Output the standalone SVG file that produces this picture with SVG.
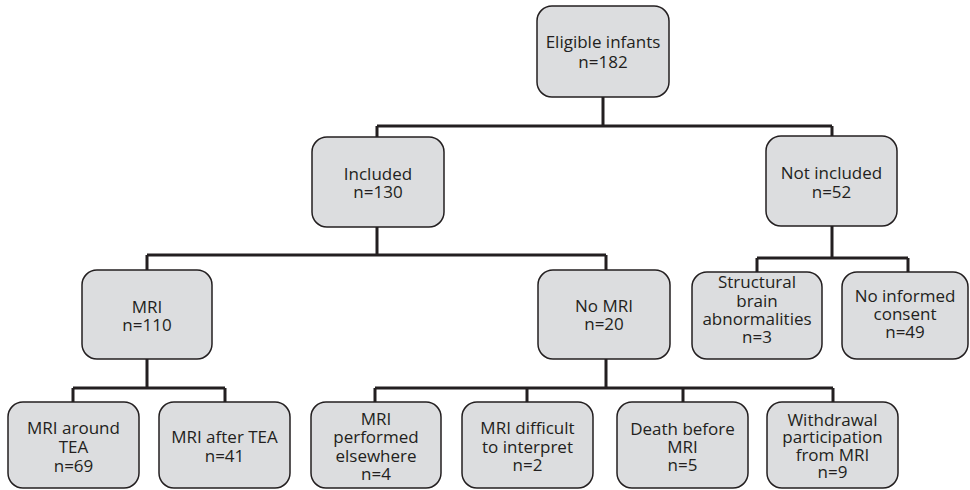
<svg xmlns="http://www.w3.org/2000/svg" width="970" height="490" viewBox="0 0 970 490">
<style>
.b{fill:#dcdddf;stroke:#231f20;stroke-width:1.5}
text{font-family:"Open Sans","Noto Sans",sans-serif;font-size:17px;fill:#231f20;text-anchor:middle}
.c{fill:none;stroke:#231f20;stroke-width:3}
</style>
<rect width="970" height="490" fill="#fff"/>
<g id="connectors">
<path class="c" d="M603,97V126M377,126H832M377,126V137M832,126V136"/>
<path class="c" d="M377,227V255M147,255H606M147,255V270M606,255V270"/>
<path class="c" d="M147,359V388M73,388H225M73,388V402M225,388V402"/>
<path class="c" d="M606,359V388M375,388H833M375,388V402M527,388V402M683,388V402M833,388V402"/>
<path class="c" d="M832,226V258M757,258H908M757,258V272M908,258V272"/>
</g>
<g id="eligible"><rect class="b" x="537" y="6" width="132" height="91" rx="15"/><text x="603" y="48">Eligible infants</text><text x="603" y="68">n=182</text></g>
<g id="included"><rect class="b" x="312" y="137" width="132" height="90" rx="15"/><text x="378" y="180">Included</text><text x="378" y="198">n=130</text></g>
<g id="notincluded"><rect class="b" x="766" y="136" width="131" height="90" rx="15"/><text x="831.5" y="179">Not included</text><text x="831.5" y="198">n=52</text></g>
<g id="mri"><rect class="b" x="82" y="270" width="130" height="89" rx="15"/><text x="147" y="313">MRI</text><text x="147" y="331">n=110</text></g>
<g id="nomri"><rect class="b" x="538" y="270" width="132" height="89" rx="15"/><text x="604" y="312">No MRI</text><text x="604" y="330">n=20</text></g>
<g id="structural"><rect class="b" x="692" y="272" width="130" height="87" rx="15"/><text x="757" y="288">Structural</text><text x="757" y="307">brain</text><text x="757" y="325">abnormalities</text><text x="757" y="343">n=3</text></g>
<g id="noconsent"><rect class="b" x="842" y="272" width="126" height="87" rx="15"/><text x="905" y="302">No informed</text><text x="905" y="320">consent</text><text x="905" y="338">n=49</text></g>
<g id="around"><rect class="b" x="8" y="402" width="131" height="86" rx="15"/><text x="73.5" y="434">MRI around</text><text x="73.5" y="453">TEA</text><text x="73.5" y="472">n=69</text></g>
<g id="after"><rect class="b" x="159" y="402" width="131" height="86" rx="15"/><text x="224.5" y="443">MRI after TEA</text><text x="224.5" y="462">n=41</text></g>
<g id="elsewhere"><rect class="b" x="311" y="402" width="130" height="86" rx="15"/><text x="376" y="425">MRI</text><text x="376" y="443">performed</text><text x="376" y="462">elsewhere</text><text x="376" y="480">n=4</text></g>
<g id="difficult"><rect class="b" x="462" y="402" width="131" height="86" rx="15"/><text x="527.5" y="434">MRI difficult</text><text x="527.5" y="453">to interpret</text><text x="527.5" y="471">n=2</text></g>
<g id="death"><rect class="b" x="617" y="402" width="131" height="86" rx="15"/><text x="682.5" y="435">Death before</text><text x="682.5" y="453">MRI</text><text x="682.5" y="471">n=5</text></g>
<g id="withdrawal"><rect class="b" x="767" y="402" width="131" height="86" rx="15"/><text x="832.5" y="426">Withdrawal</text><text x="832.5" y="443">participation</text><text x="832.5" y="461">from MRI</text><text x="832.5" y="478">n=9</text></g>
</svg>
